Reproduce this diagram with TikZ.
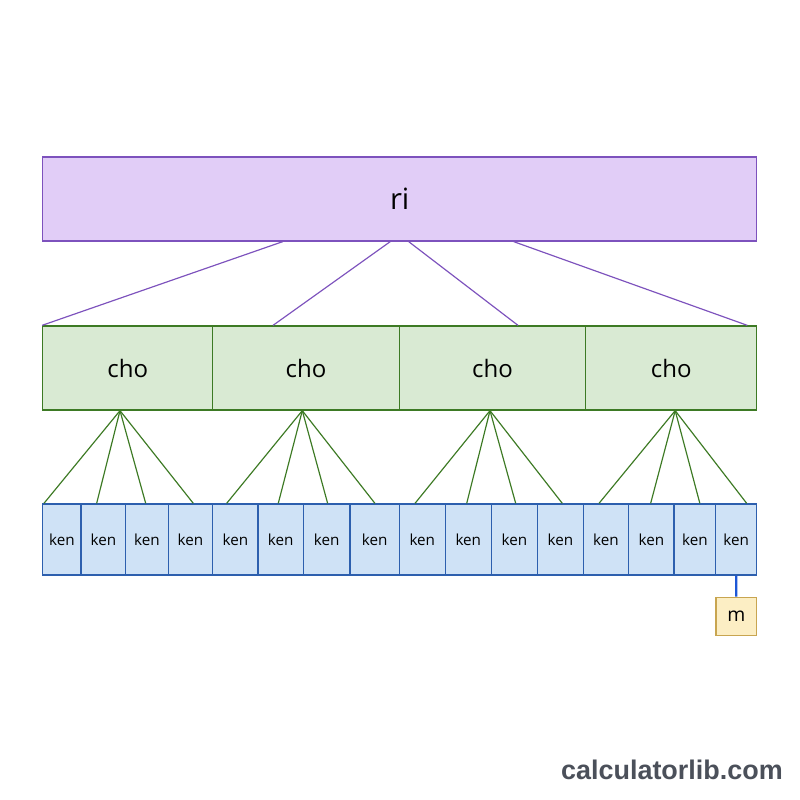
\documentclass[tikz,border=0pt]{standalone}
\usepackage{fontspec}
\setmainfont{Open Sans}
\newfontfamily\markfont{Liberation Sans}
\usetikzlibrary{positioning,calc}
\definecolor{riFill}{HTML}{E1CDF7}
\definecolor{riLine}{HTML}{7D52BD}
\definecolor{choFill}{HTML}{D9EAD3}
\definecolor{choLine}{HTML}{3D7A24}
\definecolor{kenFill}{HTML}{CFE2F6}
\definecolor{kenLine}{HTML}{2D5FAE}
\definecolor{mFill}{HTML}{FCEEC4}
\definecolor{mLine}{HTML}{C8A550}
\definecolor{mLink}{HTML}{1D57D6}
\definecolor{markGray}{HTML}{4B505A}
\newlength\pxl
\setlength\pxl{0.03cm}
\tikzset{
  ribox/.style={draw=riLine,fill=riFill,line width=1.1pt,inner sep=0pt,
    minimum height=84*\pxl,font=\fontsize{25}{29}\selectfont},
  chobox/.style={draw=choLine,fill=choFill,line width=1.1pt,inner sep=0pt,
    minimum height=84*\pxl,font=\fontsize{20.5}{24}\selectfont},
  kenbox/.style={draw=kenLine,fill=kenFill,line width=1.1pt,inner sep=0pt,
    minimum height=71*\pxl,font=\fontsize{13}{15}\selectfont},
  mbox/.style={draw=mLine,fill=mFill,line width=1.1pt,inner sep=0pt,
    minimum width=40.7*\pxl,minimum height=38*\pxl,font=\fontsize{16.5}{19}\selectfont},
  rilink/.style={draw=riLine,line width=1pt},
  cholink/.style={draw=choLine,line width=1pt},
  mlink/.style={draw=mLink,line width=1.8pt},
}

\begin{document}
\begin{tikzpicture}[x=0.03cm,y=-0.03cm]
  \useasboundingbox[fill=white] (0,0) rectangle (800,800);
  % top level
  \node[ribox,minimum width=714*\pxl] (ri) at (399.7,199) {ri};
  % second level
  \foreach \i/\xl/\xr in {1/42.7/212.7,2/212.7/399.3,3/399.3/585.7,4/585.7/756.7}
    \node[chobox,minimum width={(\xr-\xl)*\pxl}] (c\i) at ({(\xl+\xr)/2},368) {cho};
  % third level
  \foreach \i/\xl/\xr in {1/42.7/81,2/81/125.7,3/125.7/168.3,4/168.3/212.7,
      5/212.7/258,6/258/303.3,7/303.3/350,8/350/399.3,
      9/399.3/445.3,10/445.3/491.3,11/491.3/537.7,12/537.7/583.3,
      13/583.3/628.7,14/628.7/674,15/674/715.7,16/715.7/756.7}
    \node[kenbox,minimum width={(\xr-\xl)*\pxl}] (k\i) at ({(\xl+\xr)/2},539.5) {ken};
  \node[mbox] (m) at (736.3,616.3) {m};
  % links
  \draw[rilink] ([xshift=-117*\pxl]ri.south) -- (c1.north west);
  \draw[rilink] ([xshift=-9.5*\pxl]ri.south) -- ([xshift=-33*\pxl]c2.north);
  \draw[rilink] ([xshift=9*\pxl]ri.south) -- ([xshift=25.5*\pxl]c3.north);
  \draw[rilink] ([xshift=114*\pxl]ri.south) -- ([xshift=-10*\pxl]c4.north east);
  \foreach \c/\dc/\k/\dk in {1/-7.7/1/-17.9,1/-7.7/2/-6.7,1/-7.7/3/-1.3,1/-7.7/4/2.8,
      2/-3.7/5/-8.7,2/-3.7/6/-2.4,2/-3.7/7/1,2/-3.7/8/0.3,
      3/-2.5/9/-7.3,3/-2.5/10/-1.6,3/-2.5/11/1.2,3/-2.5/12/1.8,
      4/4/13/-7,4/4/14/-0.7,4/4/15/5,4/4/16/10.5}
    \draw[cholink] ([xshift=\dc*\pxl]c\c.south) -- ([xshift=\dk*\pxl]k\k.north);
  \draw[mlink] (k16.south) -- (m.north);
  % watermark
  \node[anchor=south east,inner sep=0pt,text=markGray,font=\markfont\bfseries\fontsize{23}{26}\selectfont]
    (mark) at (783,780) {calculatorlib.com};
\end{tikzpicture}
\end{document}
